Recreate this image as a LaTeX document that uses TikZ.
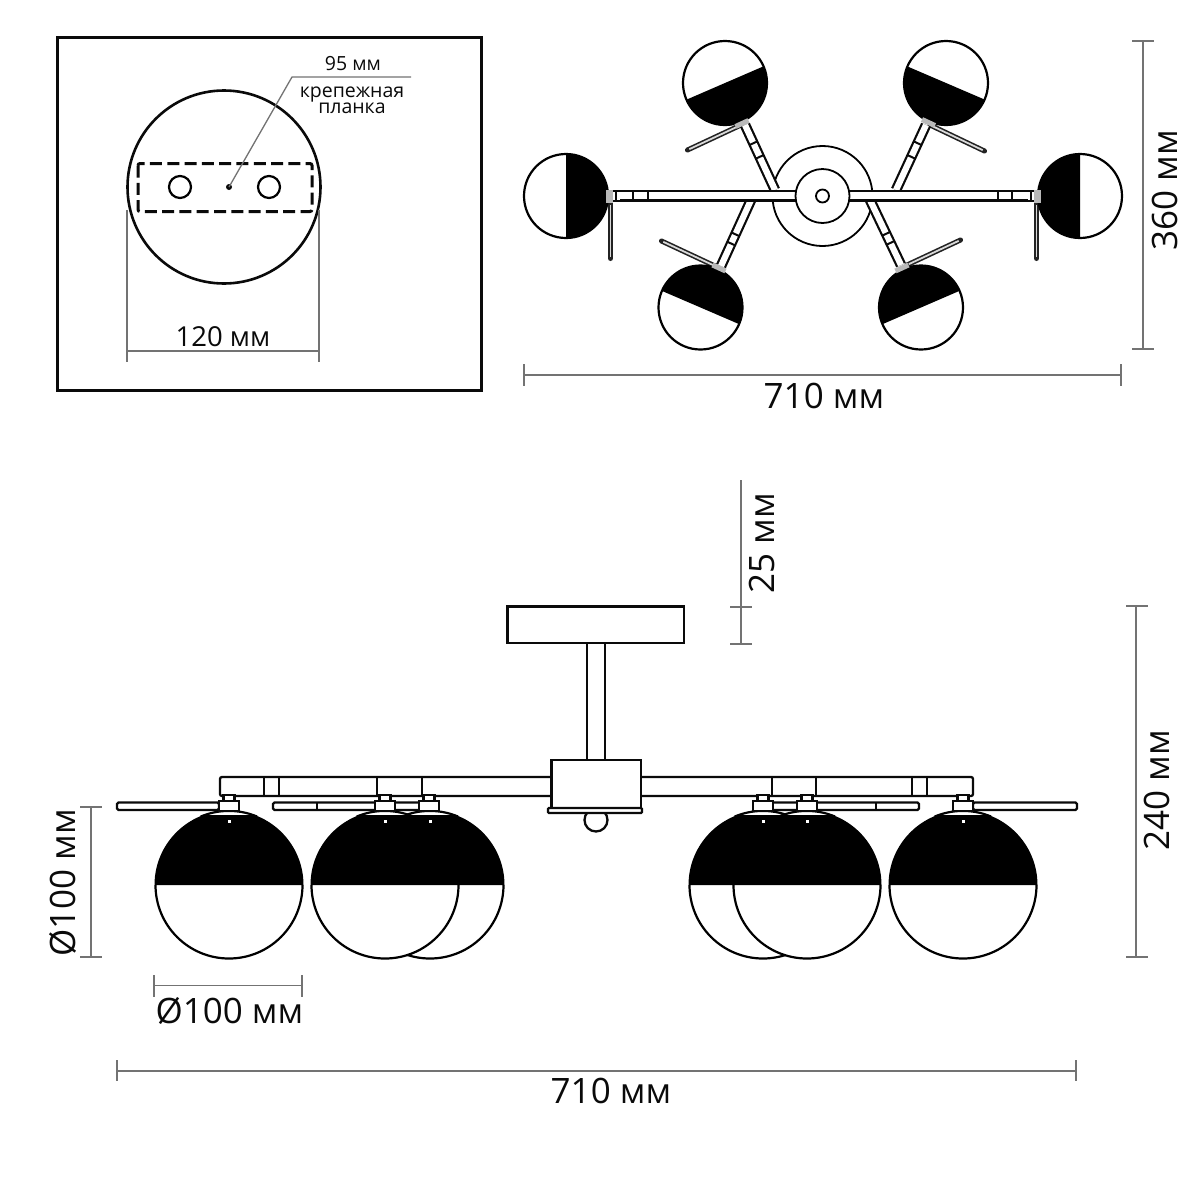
\documentclass[tikz,border=0pt]{standalone}
\usepackage{fontspec}
\setmainfont{Open Sans}
\usetikzlibrary{calc}
\definecolor{dimgrey}{gray}{0.45}
\definecolor{ink}{gray}{0.04}
\tikzset{
  frameline/.style={draw=ink,line width=3pt},
  part/.style={draw=ink,line width=2.3pt,fill=white},
  ballline/.style={draw=black,line width=2.2pt},
  dimline/.style={draw=dimgrey,line width=1.6pt},
  arm/.style={draw=ink,line width=2.2pt,double=white,double distance=6.2pt},
  platebar/.style={draw=ink,line width=2.2pt,fill=white,rounded corners=1.5pt},
  plateout/.style={draw=ink!90,line width=5pt,line cap=round},
  platein/.style={draw=gray!30,line width=1.8pt,shorten >=2pt,shorten <=2pt},
  sockettop/.style={draw=gray!55,line width=5pt},
  dimtext/.style={text=ink,font=\fontsize{35}{38}\selectfont,inner sep=0pt},
  smalltext/.style={text=ink,font=\fontsize{19.5}{15}\selectfont,inner sep=0pt,align=center},
}
% top-view globe: centre x, y, start angle of the black half
\newcommand\topball[3]{%
  \fill[black] (#1,#2) ++(#3:42) arc (#3:#3+180:42) -- cycle;
  \draw[ballline] (#1,#2) circle [radius=42];}
% front-view globe: centre x
\newcommand\frontball[1]{%
  \fill[white] (#1+73.5,885) arc (0:180:73.5) -- cycle;
  \draw[ballline] (#1+73.5,885) arc (0:180:73.5);
  \fill[black] (#1+74.5,885) arc (0:-180:74.5) -- cycle;
  \begin{scope}
    \clip (#1,884.5) circle [radius=73.5];
    \fill[white] (#1-28,805) rectangle (#1+28,815);
  \end{scope}
  \draw[ballline] (#1+28,816.5) arc (-67.5:-112.5:73.5);
  \fill[white] (#1-1.5,819.5) rectangle (#1+1.5,823);}
% front-view socket: centre x
\newcommand\socket[1]{%
  \draw[part] (#1-5.5,795) rectangle (#1+5.5,801);
  \draw[part] (#1-10,801) rectangle (#1+10,811);}
% cross bar on a diagonal arm
\newcommand\crossbar[3]{%
  \draw[ink,line width=2pt] ($(#1)!#3!(#2)!4.6pt!90:(#2)$) -- ($(#1)!#3!(#2)!4.6pt!-90:(#2)$);}
\begin{document}
\begin{tikzpicture}[x=1pt,y=-1pt]
\useasboundingbox (0,0) rectangle (1200,1200);
\fill[white] (0,0) rectangle (1200,1200);

% ---- mounting panel
\draw[frameline] (57,37) rectangle (481,390);
\draw[draw=ink,line width=2.6pt] (224,187) circle [radius=96.5];
\draw[draw=ink,line width=3pt,rounded corners=2pt,dash pattern=on 12pt off 5.3pt] (138,163.5) rectangle (312,211.5);
\draw[ballline] (180,187) circle [radius=11];
\draw[ballline] (269,187) circle [radius=11];
\node[circle,fill=ink,inner sep=0pt,minimum size=6pt] (mdot) at (229,187) {};
\coordinate (lk) at (292,77);
\coordinate (le) at (411,77);
\draw[dimline,line width=1.3pt] (mdot.center) -- (lk) -- (le);
\node[smalltext] (t95) at (353,64) {95 мм};
\node[smalltext] (tkr) at (352,100) {крепежная\\планка};
\coordinate (p1) at (127,351); \coordinate (p2) at (319,351);
\draw[dimline] (p1) -- (p2);
\draw[dimline] (127,210) -- (127,362);
\draw[dimline] (319,210) -- (319,362);
\node[dimtext,font=\fontsize{27.5}{30}\selectfont] (t120) at (223,337) {120 мм};

% ---- top view
\draw[ballline,line width=1.8pt] (822.5,196) circle [radius=50];
% plates
\coordinate (pe1) at (610.5,203); \coordinate (pe2) at (610.5,258.5);
\coordinate (pf1) at (1036.5,203); \coordinate (pf2) at (1036.5,258.5);
\coordinate (pa1) at (687.5,150); \coordinate (pa2) at (741,125);
\coordinate (pb1) at (661.5,241); \coordinate (pb2) at (715,266);
\coordinate (pc1) at (930,125); \coordinate (pc2) at (984.5,151);
\coordinate (pd1) at (907,265); \coordinate (pd2) at (960.5,240);
\foreach \a/\b in {pa1/pa2,pb1/pb2,pc1/pc2,pd1/pd2,pe1/pe2,pf1/pf2} {
  \draw[plateout] (\a) -- (\b);
  \draw[platein] (\a) -- (\b);
}
% diagonal arms
\coordinate (aa1) at (775,190); \coordinate (aa2) at (745,125);
\coordinate (ab1) at (751,200); \coordinate (ab2) at (721,266);
\coordinate (ac1) at (896,190); \coordinate (ac2) at (926,125);
\coordinate (ad1) at (870,200); \coordinate (ad2) at (901,265);
\foreach \a/\b in {aa1/aa2,ab1/ab2,ac1/ac2,ad1/ad2}
  \draw[arm] (\a) -- (\b);
\crossbar{aa1}{aa2}{.51}\crossbar{aa1}{aa2}{.72}
\crossbar{ab1}{ab2}{.52}\crossbar{ab1}{ab2}{.66}
\crossbar{ac1}{ac2}{.51}\crossbar{ac1}{ac2}{.72}
\crossbar{ad1}{ad2}{.52}\crossbar{ad1}{ad2}{.66}
% horizontal arms
\draw[part,line width=2pt] (611,191) rectangle (797,200.5);
\draw[part,line width=2pt] (849,191) rectangle (1036,200.5);
\draw[ink,line width=3pt] (620,200.8) -- (797,200.8);
\draw[ink,line width=3pt] (849,200.8) -- (1028,200.8);
\foreach \x in {616,633,648,997.5,1012,1031}
  \draw[ink,line width=2pt] (\x,191) -- (\x,200.5);
\draw[ballline,line width=1.8pt,fill=white] (822.5,196) circle [radius=27];
\draw[ballline,line width=1.8pt] (822.5,196) circle [radius=6.5];
% globes
\topball{566}{196}{-90}
\topball{1080}{196}{90}
\topball{725}{83}{-23.4}
\topball{946}{83}{23.2}
\topball{700.5}{307.5}{-156.7}
\topball{921}{307.5}{156.6}
% socket pieces
\draw[sockettop,line width=7pt] (609.5,190) -- (609.5,203);
\draw[sockettop,line width=7pt] (1037.5,190) -- (1037.5,203);
\coordinate (sa) at (742,123.5); \coordinate (sb) at (719,268);
\coordinate (sc) at (928.5,122.5); \coordinate (sd) at (902,268);
\draw[sockettop] ($(sa)+(-6.5,3)$) -- ($(sa)+(6.5,-3)$);
\draw[sockettop] ($(sb)+(-6.5,-3)$) -- ($(sb)+(6.5,3)$);
\draw[sockettop] ($(sc)+(-6.5,-3)$) -- ($(sc)+(6.5,3)$);
\draw[sockettop] ($(sd)+(-6.5,3)$) -- ($(sd)+(6.5,-3)$);

% ---- front view
\draw[part,line width=2.6pt] (507.5,606.5) rectangle (684,643);
\draw[part] (587,643) rectangle (605,760);
\draw[platebar] (117,802.5) rectangle (219,810);
\draw[platebar] (273,802.5) rectangle (430,810);
\draw[platebar] (763,802.5) rectangle (919,810);
\draw[platebar] (973,802.5) rectangle (1077,810);
\draw[ink,line width=1.8pt] (317,802.5) -- (317,810);
\draw[ink,line width=1.8pt] (876,802.5) -- (876,810);
\draw[part,rounded corners=2pt] (220,777) rectangle (973,796);
\foreach \x in {264,279,377,422,772,816,912,927}
  \draw[ink,line width=2.2pt] (\x,777) -- (\x,796);
\draw[part] (596,820) circle [radius=11.5];
\draw[part] (551.5,760) rectangle (641,808);
\draw[part,line width=2.4pt,rounded corners=1pt] (548,808) rectangle (642,813);
\frontball{430}
\frontball{385}
\frontball{229}
\frontball{763}
\frontball{807}
\frontball{963}
\foreach \x in {229,385,429,763,807,963} {\socket{\x}}

% ---- dimensions
\coordinate (a1) at (1143,41);  \coordinate (a2) at (1143,349);
\draw[dimline] (a1) -- (a2);
\draw[dimline] (1132,41) -- (1154,41);
\draw[dimline] (1132,349) -- (1154,349);
\node[dimtext,rotate=90] (t360) at (1165,190) {360 мм};
\coordinate (b1) at (524,375);  \coordinate (b2) at (1121,375);
\draw[dimline] (b1) -- (b2);
\draw[dimline] (524,364) -- (524,386);
\draw[dimline] (1121,364) -- (1121,386);
\node[dimtext] (t710a) at (824,396) {710 мм};
\coordinate (c1) at (741,480);  \coordinate (c2) at (741,644);
\draw[dimline] (c1) -- (c2);
\draw[dimline] (730,607) -- (752,607);
\draw[dimline] (730,644) -- (752,644);
\node[dimtext,rotate=90] (t25) at (762,543) {25 мм};
\coordinate (d1) at (1136,606);  \coordinate (d2) at (1136,957);
\draw[dimline] (d1) -- (d2);
\draw[dimline] (1126,606) -- (1148,606);
\draw[dimline] (1126,957) -- (1148,957);
\node[dimtext,rotate=90] (t240) at (1157,790) {240 мм};
\coordinate (e1) at (91,807);  \coordinate (e2) at (91,957);
\draw[dimline] (e1) -- (e2);
\draw[dimline] (80,807) -- (102,807);
\draw[dimline] (80,957) -- (102,957);
\node[dimtext,rotate=90] (t100a) at (63,882.5) {Ø100 мм};
\coordinate (f1) at (154,985.5);  \coordinate (f2) at (302,985.5);
\draw[dimline] (f1) -- (f2);
\draw[dimline] (154,975) -- (154,997);
\draw[dimline] (302,975) -- (302,997);
\node[dimtext] (t100b) at (229.5,1011) {Ø100 мм};
\coordinate (g1) at (117,1071);  \coordinate (g2) at (1076,1071);
\draw[dimline] (g1) -- (g2);
\draw[dimline] (117,1060) -- (117,1081);
\draw[dimline] (1076,1060) -- (1076,1081);
\node[dimtext] (t710b) at (611,1091) {710 мм};
\end{tikzpicture}
\end{document}
